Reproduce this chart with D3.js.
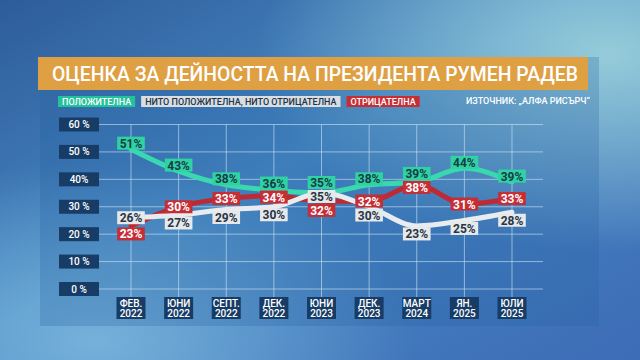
<!DOCTYPE html>
<html>
<head>
<meta charset="utf-8">
<script src="https://cdn.jsdelivr.net/npm/d3@7"></script>
<style>
  html, body { margin: 0; padding: 0; background: #3a74b0; }
  svg { display: block; font-family: Roboto, "Open Sans", sans-serif; }
</style>
</head>
<body>
<div id="chart"></div>
<script>
// survey dates (two-line labels)
var months = ["ФЕВ.", "ЮНИ", "СЕПТ.", "ДЕК.", "ЮНИ", "ДЕК.", "МАРТ", "ЯН.", "ЮЛИ"];
var years = ["2022", "2022", "2022", "2022", "2023", "2023", "2024", "2025", "2025"];

// percentages
var positive = [51, 43, 38, 36, 35, 38, 39, 44, 39];
var neutral = [26, 27, 29, 30, 35, 30, 23, 25, 28];
var negative = [23, 30, 33, 34, 32, 32, 38, 31, 33];

var yTicks = [0, 10, 20, 30, 40, 50, 60];
var yTickLabels = ["0 %", "10 %", "20 %", "30 %", "40%", "50 %", "60 %"];

var title = "ОЦЕНКА ЗА ДЕЙНОСТТА НА ПРЕЗИДЕНТА РУМЕН РАДЕВ";
var source = "ИЗТОЧНИК: „АЛФА РИСЪРЧ“";

var series = [
  { name: "ПОЛОЖИТЕЛНА", values: positive, line: "#3ad8ae", box: "#2fd3a2", text: "#173b4b", legText: "#ffffff", legBox: "#22c29a" },
  { name: "НИТО ПОЛОЖИТЕЛНА, НИТО ОТРИЦАТЕЛНА", values: neutral, line: "#e9ecee", box: "#e6e8ea", text: "#263646", legText: "#1d3348", legBox: "#d9dee3" },
  { name: "ОТРИЦАТЕЛНА", values: negative, line: "#bd2a32", box: "#c62e36", text: "#ffffff", legText: "#ffffff", legBox: "#c62e36" }
];

var W = 640, H = 360;
var svg = d3.select("#chart").append("svg").attr("width", W).attr("height", H);

// background
var defs = svg.append("defs");
var bg = defs.append("linearGradient").attr("id", "bg")
  .attr("x1", "0").attr("y1", "0").attr("x2", "1").attr("y2", "1");
bg.append("stop").attr("offset", "0%").attr("stop-color", "#2e5c9a");
bg.append("stop").attr("offset", "45%").attr("stop-color", "#4688c4");
bg.append("stop").attr("offset", "100%").attr("stop-color", "#3d6cb6");
var glow = defs.append("radialGradient").attr("id", "glow")
  .attr("cx", "0.95").attr("cy", "0.15").attr("r", "0.55");
glow.append("stop").attr("offset", "0%").attr("stop-color", "#9fd4dc").attr("stop-opacity", 0.9);
glow.append("stop").attr("offset", "100%").attr("stop-color", "#9fd4dc").attr("stop-opacity", 0);
var glow2 = defs.append("radialGradient").attr("id", "glow2")
  .attr("cx", "0.15").attr("cy", "0.95").attr("r", "0.5");
glow2.append("stop").attr("offset", "0%").attr("stop-color", "#86c0e2").attr("stop-opacity", 0.75);
glow2.append("stop").attr("offset", "100%").attr("stop-color", "#86c0e2").attr("stop-opacity", 0);

svg.append("rect").attr("width", W).attr("height", H).attr("fill", "url(#bg)");
svg.append("rect").attr("width", W).attr("height", H).attr("fill", "url(#glow)");
svg.append("rect").attr("width", W).attr("height", H).attr("fill", "url(#glow2)");

// panel
svg.append("rect")
  .attr("x", 40).attr("y", 57).attr("width", 559).attr("height", 269)
  .attr("fill", "#245f9e").attr("fill-opacity", 0.25);

// title bar
svg.append("rect")
  .attr("x", 38).attr("y", 57).attr("width", 550).attr("height", 33)
  .attr("fill", "#dea043");
svg.append("text")
  .attr("x", 52).attr("y", 81)
  .attr("fill", "#ffffff")
  .style("font-size", "21px").style("font-weight", 500)
  .attr("textLength", 526).attr("lengthAdjust", "spacingAndGlyphs")
  .text(title);

// legend
var lx = 58;
series.forEach(function(s) {
  var g = svg.append("g");
  var t = g.append("text")
    .attr("y", 104.5)
    .attr("fill", s.legText)
    .style("font-size", "9px").style("font-weight", 500)
    .text(s.name);
  var w = t.node().getComputedTextLength();
  g.insert("rect", "text")
    .attr("x", lx).attr("y", 96).attr("width", w + 8).attr("height", 11)
    .attr("fill", s.legBox);
  t.attr("x", lx + 4);
  lx += w + 8 + 6;
});
svg.append("text")
  .attr("x", 590).attr("y", 104)
  .attr("text-anchor", "end")
  .attr("fill", "#ffffff")
  .style("font-size", "9px").style("font-weight", 500)
  .text(source);

// scales
var x = d3.scalePoint().domain(d3.range(months.length)).range([131, 512]);
var y = d3.scaleLinear().domain([0, 60]).range([289, 124.5]);

// grid
var grid = svg.append("g");
grid.selectAll(".hgrid")
  .data(yTicks)
  .enter().append("line")
  .attr("x1", 99).attr("x2", 543)
  .attr("y1", function(d) { return y(d); })
  .attr("y2", function(d) { return y(d); })
  .attr("stroke", "#cfe6f5").attr("stroke-opacity", 0.6).attr("stroke-width", 1);
grid.selectAll(".vgrid")
  .data(d3.range(months.length))
  .enter().append("line")
  .attr("x1", function(d) { return x(d); })
  .attr("x2", function(d) { return x(d); })
  .attr("y1", y(60)).attr("y2", 298)
  .attr("stroke", "#cfe6f5").attr("stroke-opacity", 0.6).attr("stroke-width", 1);

// y axis labels
var yl = svg.append("g").selectAll("g")
  .data(yTicks)
  .enter().append("g")
  .attr("transform", function(d) { return "translate(0," + y(d) + ")"; });
yl.append("rect")
  .attr("x", 59).attr("y", -7).attr("width", 40).attr("height", 14)
  .attr("fill", "#173c66");
yl.append("text")
  .attr("x", 79).attr("y", 3.5)
  .attr("text-anchor", "middle")
  .attr("fill", "#ffffff")
  .style("font-size", "10px").style("font-weight", 500)
  .text(function(d, i) { return yTickLabels[i]; });

// x axis labels
var xl = svg.append("g").selectAll("g")
  .data(d3.range(months.length))
  .enter().append("g")
  .attr("transform", function(d) { return "translate(" + x(d) + ",0)"; });
xl.append("rect")
  .attr("x", -14.5).attr("y", 297).attr("width", 29).attr("height", 22)
  .attr("fill", "#173c66");
xl.append("text")
  .attr("y", 307)
  .attr("text-anchor", "middle").attr("fill", "#ffffff")
  .style("font-size", "10px").style("font-weight", 500)
  .text(function(d) { return months[d]; });
xl.append("text")
  .attr("y", 317)
  .attr("text-anchor", "middle").attr("fill", "#ffffff")
  .style("font-size", "10px").style("font-weight", 500)
  .text(function(d) { return years[d]; });

// lines
var line = d3.line()
  .x(function(d, i) { return x(i); })
  .y(function(d) { return y(d); })
  .curve(d3.curveMonotoneX);

[0, 2, 1].forEach(function(k) {
  svg.append("path")
    .datum(series[k].values)
    .attr("fill", "none")
    .attr("stroke", series[k].line)
    .attr("stroke-width", 5)
    .attr("stroke-linejoin", "round")
    .attr("stroke-linecap", "round")
    .attr("d", line);
});

// value labels: top label nudged up, bottom one down, then spread apart
var labels = [];
d3.range(months.length).forEach(function(i) {
  var order = [0, 1, 2].sort(function(a, b) {
    return series[b].values[i] - series[a].values[i] || a - b;
  });
  var nudge = [-6, 0, 8];
  var pos = order.map(function(k, r) {
    return { k: k, i: i, ly: y(series[k].values[i]) + nudge[r] };
  });
  for (var it = 0; it < 10; it++) {
    for (var r = 0; r < 2; r++) {
      var gap = pos[r + 1].ly - pos[r].ly;
      if (gap < 14) {
        var d = (14 - gap) / 2;
        pos[r].ly -= d;
        pos[r + 1].ly += d;
      }
    }
  }
  labels = labels.concat(pos);
});

var lg = svg.append("g").selectAll("g")
  .data(labels)
  .enter().append("g")
  .attr("transform", function(d) { return "translate(" + x(d.i) + "," + d.ly + ")"; });
lg.append("text")
  .attr("y", 4.5)
  .attr("text-anchor", "middle")
  .attr("fill", function(d) { return series[d.k].text; })
  .style("font-size", "12px").style("font-weight", 700)
  .text(function(d) { return series[d.k].values[d.i] + "%"; });
lg.each(function() {
  var g = d3.select(this);
  var w = g.select("text").node().getComputedTextLength();
  g.insert("rect", "text")
    .attr("x", -w / 2 - 2.5).attr("y", -6.5)
    .attr("width", w + 5).attr("height", 13)
    .attr("fill", function(d) { return series[d.k].box; });
});
</script>
</body>
</html>
